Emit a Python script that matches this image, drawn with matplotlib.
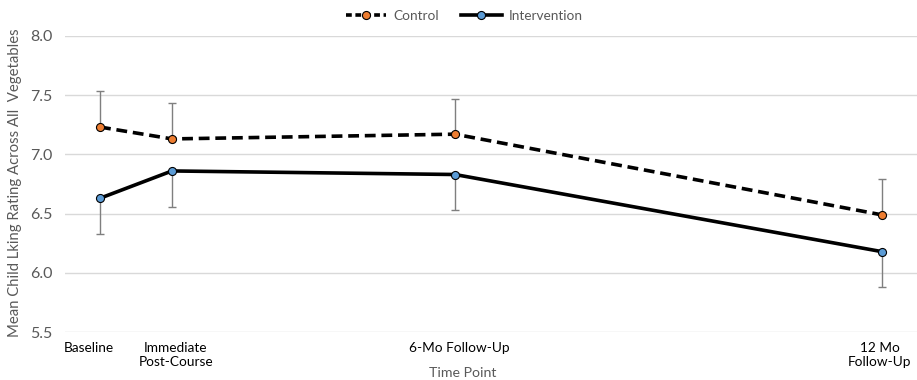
import matplotlib.pyplot as plt
from matplotlib.lines import Line2D

plt.rcParams['font.family'] = ['Lato', 'DejaVu Sans']

# time points (position along the axis)
time_labels = ['Baseline', 'Immediate\nPost-Course', '6-Mo Follow-Up', '12 Mo\nFollow-Up']
time_x = [0, 0.92, 4.54, 10.0]

control = [7.23, 7.13, 7.17, 6.49]
control_err = [0.30, 0.30, 0.30, 0.30]
intervention = [6.63, 6.86, 6.83, 6.18]
intervention_err = [0.30, 0.30, 0.30, 0.30]

ORANGE = '#ED7D31'
BLUE = '#5B9BD5'
GREY_TXT = '#595959'

fig = plt.figure(figsize=(9.17, 3.8), dpi=100)
ax = fig.add_axes([65/917, 1 - 332.3/380, 1 - 65/917, (332.3 - 35.7)/380])

# error bars: control upward only, intervention downward only
ax.errorbar(time_x, control, yerr=[[0]*len(control), control_err], fmt='none',
            ecolor='#7f7f7f', elinewidth=1, capsize=3, capthick=1, zorder=2)
ax.errorbar(time_x, intervention, yerr=[intervention_err, [0]*len(intervention)], fmt='none',
            ecolor='#7f7f7f', elinewidth=1, capsize=3, capthick=1, zorder=2)

ax.plot(time_x, control, color='black', lw=2.6, dashes=(3, 1.6),
        marker='o', ms=5.8, mfc=ORANGE, mec='black', mew=0.8, zorder=3)
ax.plot(time_x, intervention, color='black', lw=2.6,
        marker='o', ms=5.8, mfc=BLUE, mec='black', mew=0.8, zorder=3)

ax.set_xlim(-0.448, 10.45)
ax.set_ylim(5.5, 8.0)
ax.set_yticks([5.5, 6.0, 6.5, 7.0, 7.5, 8.0])
ax.set_yticklabels(['5.5', '6.0', '6.5', '7.0', '7.5', '8.0'])
ax.grid(axis='y', color='#d9d9d9', lw=1)
ax.set_axisbelow(True)
for s in ax.spines.values():
    s.set_visible(False)

ax.set_xticks([-0.14, 0.97, 4.6, 9.97])
ax.set_xticklabels(time_labels, fontsize=9.8, color='black', linespacing=1.15)
ax.tick_params(axis='x', length=0, pad=7)
ax.tick_params(axis='y', length=0, pad=9, labelsize=11.5, labelcolor=GREY_TXT)

fig.text(15/917, 1 - 183/380, 'Mean Child Lking Rating Across All  Vegetables',
         rotation=90, ha='center', va='center', fontsize=10.7, color=GREY_TXT)
fig.text(463/917, 1/380, 'Time Point', ha='center', va='bottom', fontsize=10.2, color=GREY_TXT)

handles = [
    Line2D([], [], color='black', lw=2.6, dashes=(1.6, 1.0), marker='o', ms=5.8,
           mfc=ORANGE, mec='black', mew=0.8),
    Line2D([], [], color='black', lw=2.6, marker='o', ms=5.8,
           mfc=BLUE, mec='black', mew=0.8),
]
leg = fig.legend(handles, ['Control', 'Intervention'], loc='center',
                 bbox_to_anchor=(464/917, 1 - 16/380), ncol=2, frameon=False,
                 fontsize=9.8, handlelength=3.0, handletextpad=0.5, columnspacing=1.6)
for t in leg.get_texts():
    t.set_color(GREY_TXT)

fig.savefig('out.png', dpi=100)
